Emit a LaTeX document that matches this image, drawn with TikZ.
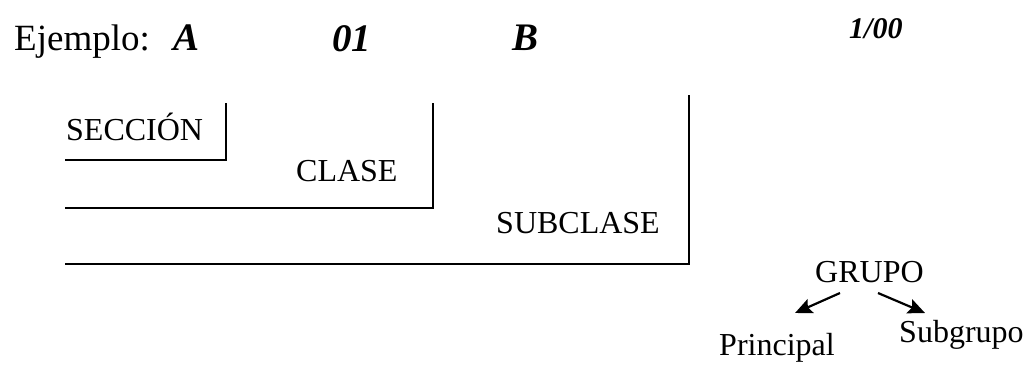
\documentclass[tikz,border=0pt]{standalone}
\usepackage{fontspec}
\setmainfont{Liberation Serif}
\usetikzlibrary{arrows.meta}
\begin{document}
\begin{tikzpicture}[x=1pt,y=-1pt,
  lbl/.style={anchor=base west,inner sep=0pt,font=\fontsize{32}{37}\selectfont},
  big/.style={anchor=base west,inner sep=0pt,font=\fontsize{37}{42}\selectfont},
  code/.style={anchor=base west,inner sep=0pt,font=\fontsize{39}{44}\selectfont\bfseries\itshape},
  frame/.style={line width=1.3pt,black},
  arr/.style={line width=2.2pt,-{Stealth[length=17pt,width=15pt,inset=3pt]}}]
\useasboundingbox (0,0) rectangle (1035,364);
% header
\node[big] (ej) at (14,50) {Ejemplo:};
\node[code] (a) at (173,50) {A};
\node[code] (n01) at (332,51) {01};
\node[code] (b) at (512,50) {B};
\node[anchor=base west,inner sep=0pt,font=\fontsize{30}{34}\selectfont\bfseries\itshape] (g) at (849,38) {1/00};
% brackets
\coordinate (s1) at (226,103); \coordinate (s2) at (226,160); \coordinate (s3) at (65,160);
\coordinate (c1) at (433,103); \coordinate (c2) at (433,208); \coordinate (c3) at (65,208);
\coordinate (u1) at (689,95);  \coordinate (u2) at (689,264); \coordinate (u3) at (65,264);
\draw[frame] (s1) -- (s2) -- (s3);
\draw[frame] (c1) -- (c2) -- (c3);
\draw[frame] (u1) -- (u2) -- (u3);
\node[lbl] (sec) at (66,140) {SECCIÓN};
\node[lbl] (cla) at (296,181) {CLASE};
\node[lbl] (sub) at (496,233) {SUBCLASE};
% grupo
\node[lbl] (gru) at (815,282) {GRUPO};
\node[lbl] (pri) at (719,355) {Principal};
\node[lbl] (sg) at (899,342) {Subgrupo};
\coordinate (l0) at (840,293); \coordinate (l1) at (795,313);
\coordinate (r0) at (878,293); \coordinate (r1) at (925,313);
\draw[arr] (l0) -- (l1);
\draw[arr] (r0) -- (r1);
\end{tikzpicture}
\end{document}
